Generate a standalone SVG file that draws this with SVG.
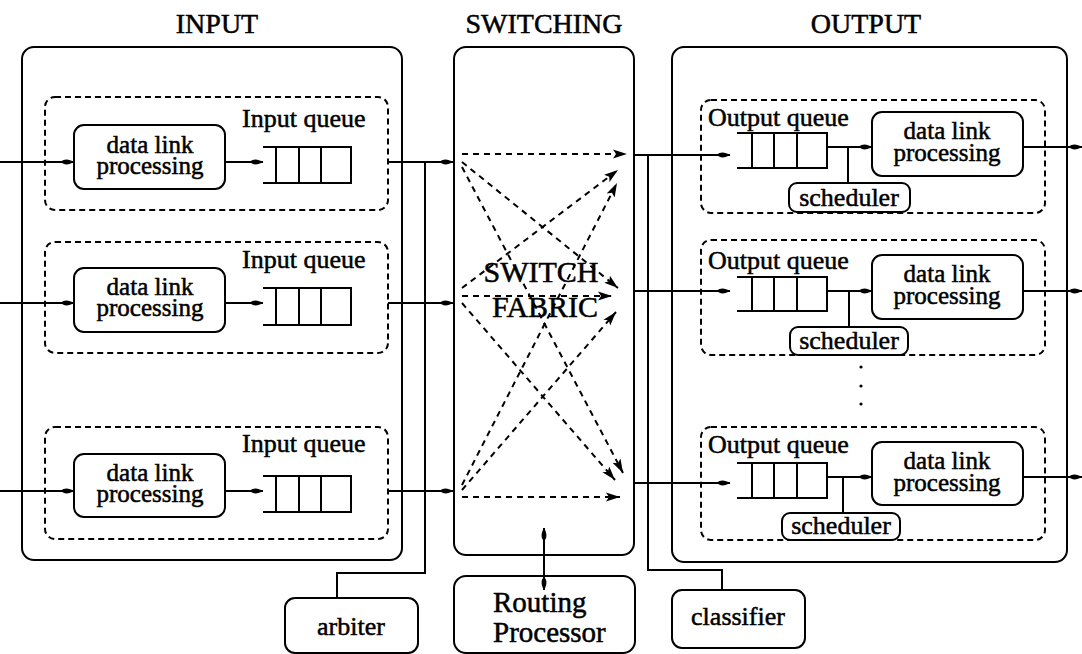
<svg xmlns="http://www.w3.org/2000/svg" width="1082" height="654" viewBox="0 0 1082 654">
<defs>
<style>
text{font-family:'Liberation Serif','Times New Roman',serif;fill:#000;stroke:#000;stroke-width:0.5}
.t{font-size:28px;text-anchor:middle}
.l{font-size:26px}
.d{font-size:25px;text-anchor:middle}
.c{text-anchor:middle}
.box{fill:none;stroke:#000;stroke-width:2}
.wbox{fill:#fff;stroke:#000;stroke-width:2}
.dash{fill:none;stroke:#000;stroke-width:2;stroke-dasharray:6 4}
.ln{fill:none;stroke:#000;stroke-width:2}
.arr{marker-end:url(#ah)}
.fab{fill:none;stroke:#000;stroke-width:2;stroke-dasharray:6 5;marker-end:url(#th)}
</style>
<marker id="ah" markerUnits="userSpaceOnUse" markerWidth="14" markerHeight="10" refX="13" refY="5" orient="auto"><path d="M0,5 C3,1.5 8,2 13,5 C8,8 3,8.5 0,5 Z"/></marker>
<marker id="th" markerUnits="userSpaceOnUse" markerWidth="15" markerHeight="11" refX="14" refY="5.5" orient="auto"><path d="M0,1 L14,5.5 L0,10 L3,5.5 Z"/></marker>
<marker id="dh" markerUnits="userSpaceOnUse" markerWidth="14" markerHeight="10" refX="13" refY="5" orient="auto-start-reverse"><path d="M0,5 C3,1.5 8,2 13,5 C8,8 3,8.5 0,5 Z"/></marker>
</defs>

<g id="titles">
<text class="t" x="217" y="33">INPUT</text>
<text class="t" x="544" y="33">SWITCHING</text>
<text class="t" x="866" y="33">OUTPUT</text>
</g>

<g id="input">
<rect class="box" x="22" y="47" width="380" height="513" rx="12"/>
</g>
<g id="input-row1">
<rect class="dash" x="45" y="97" width="343" height="113" rx="10"/>
<rect class="box" x="74" y="125" width="151" height="64" rx="10"/>
<text class="d" x="150" y="153">data link<tspan x="150" dy="21">processing</tspan></text>
<text class="l" x="242" y="127">Input queue</text>
<path class="ln" d="M263,147 H351 V183 H263 M276,147 V183 M299,147 V183 M321,147 V183"/>
</g>
<g id="input-row2">
<rect class="dash" x="45" y="242" width="343" height="111" rx="10"/>
<rect class="box" x="74" y="268" width="151" height="64" rx="10"/>
<text class="d" x="150" y="295">data link<tspan x="150" dy="21">processing</tspan></text>
<text class="l" x="242" y="268">Input queue</text>
<path class="ln" d="M263,288 H351 V325 H263 M276,288 V325 M299,288 V325 M321,288 V325"/>
</g>
<g id="input-row3">
<rect class="dash" x="45" y="427" width="343" height="112" rx="10"/>
<rect class="box" x="74" y="454" width="151" height="63" rx="10"/>
<text class="d" x="150" y="481">data link<tspan x="150" dy="21">processing</tspan></text>
<text class="l" x="242" y="452">Input queue</text>
<path class="ln" d="M263,476 H351 V512 H263 M276,476 V512 M299,476 V512 M321,476 V512"/>
</g>

<g id="switching">
<rect class="box" x="454" y="47" width="180" height="508" rx="12"/>
<text x="541" y="282" style="font-size:30px;text-anchor:middle">SWITCH<tspan x="545" dy="35">FABRIC</tspan></text>
</g>

<g id="output">
<rect class="box" x="672" y="47" width="395" height="515" rx="12"/>
</g>
<g id="output-row1">
<rect class="dash" x="701" y="100" width="344" height="113" rx="10"/>
<text class="l" x="708" y="126">Output queue</text>
<path class="ln" d="M737,133 H827 V168 H737 M752,133 V168 M774,133 V168 M797,133 V168"/>
<rect class="box" x="872" y="112" width="151" height="64" rx="10"/>
<text class="d" x="947" y="139">data link<tspan x="947" dy="22">processing</tspan></text>
<rect class="wbox" x="789" y="183" width="121" height="29" rx="8"/>
<text class="l c" x="849" y="206">scheduler</text>
</g>
<g id="output-row2">
<rect class="dash" x="701" y="240" width="344" height="115" rx="10"/>
<text class="l" x="708" y="269">Output queue</text>
<path class="ln" d="M737,277 H827 V311 H737 M752,277 V311 M774,277 V311 M797,277 V311"/>
<rect class="box" x="872" y="255" width="151" height="64" rx="10"/>
<text class="d" x="947" y="282">data link<tspan x="947" dy="22">processing</tspan></text>
<rect class="wbox" x="790" y="327" width="118" height="28" rx="8"/>
<text class="l c" x="849" y="349">scheduler</text>
</g>
<g id="dots">
<circle cx="861" cy="367" r="1.6"/>
<circle cx="861" cy="386" r="1.6"/>
<circle cx="861" cy="404" r="1.6"/>
</g>
<g id="output-row3">
<rect class="dash" x="701" y="427" width="344" height="113" rx="10"/>
<text class="l" x="708" y="453">Output queue</text>
<path class="ln" d="M737,463 H827 V498 H737 M752,463 V498 M774,463 V498 M797,463 V498"/>
<rect class="box" x="872" y="442" width="151" height="63" rx="10"/>
<text class="d" x="947" y="469">data link<tspan x="947" dy="22">processing</tspan></text>
<rect class="wbox" x="782" y="513" width="118" height="27" rx="8"/>
<text class="l c" x="841" y="534">scheduler</text>
</g>

<g id="arbiter">
<rect class="box" x="285" y="598" width="133" height="55" rx="10"/>
<text class="l c" x="351" y="635">arbiter</text>
</g>
<g id="routing-processor">
<rect class="box" x="454" y="576" width="181" height="77" rx="12"/>
<text x="493" y="612" style="font-size:29px">Routing<tspan x="493" dy="30">Processor</tspan></text>
</g>
<g id="classifier">
<rect class="box" x="672" y="590" width="133" height="58" rx="10"/>
<text class="l c" x="738" y="625">classifier</text>
</g>

<g id="connectors">
<path class="ln arr" d="M0,162 H74"/>
<path class="ln arr" d="M225,162 H263"/>
<path class="ln arr" d="M0,303 H74"/>
<path class="ln arr" d="M225,303 H263"/>
<path class="ln arr" d="M0,491 H74"/>
<path class="ln arr" d="M225,491 H263"/>
<path class="ln arr" d="M388,162 H453"/>
<path class="ln arr" d="M388,303 H453"/>
<path class="ln arr" d="M388,491 H453"/>
<path class="ln" d="M425,162 V573 H337 V598"/>
<path class="fab" d="M462,154 L627,154"/>
<path class="fab" d="M462,162 L618,288"/>
<path class="fab" d="M462,167 L623,473"/>
<path class="fab" d="M462,288 L618,170"/>
<path class="fab" d="M462,296 L612,296"/>
<path class="fab" d="M462,303 L615,480"/>
<path class="fab" d="M462,485 L617,183"/>
<path class="fab" d="M462,490 L616,312"/>
<path class="fab" d="M462,497 L620,497"/>
<path class="ln" d="M544,590 V528" style="marker-start:url(#dh);marker-end:url(#dh)"/>
<path class="ln arr" d="M634,155 H730"/>
<path class="ln arr" d="M634,291 H730"/>
<path class="ln arr" d="M634,483 H730"/>
<path class="ln" d="M648,155 V570 H722 V590"/>
<path class="ln arr" d="M827,147 H872"/>
<path class="ln arr" d="M827,291 H872"/>
<path class="ln arr" d="M827,477 H872"/>
<path class="ln" d="M848,147 V183 M849,291 V327 M843,477 V513"/>
<path class="ln arr" d="M1023,147 H1082"/>
<path class="ln arr" d="M1023,291 H1082"/>
<path class="ln arr" d="M1023,477 H1082"/>
</g>
</svg>
